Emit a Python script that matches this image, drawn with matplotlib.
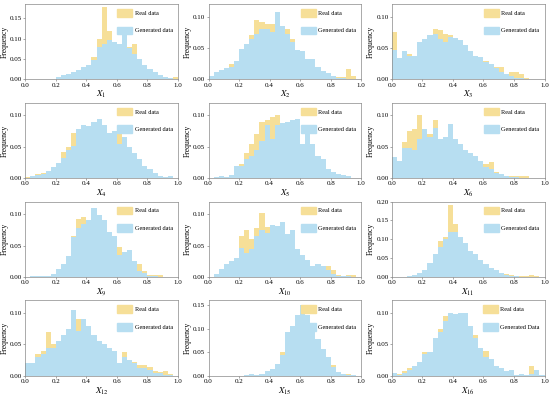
# Real vs generated data histograms
import numpy as np
import matplotlib.pyplot as plt
from matplotlib.patches import Patch
from matplotlib.ticker import MultipleLocator, FormatStrFormatter

plt.rcParams['font.family'] = ['Liberation Serif', 'DejaVu Serif']
plt.rcParams['mathtext.fontset'] = 'stix'

# 30 bins on [0, 1], relative frequency per bin
edges = np.linspace(0, 1, 31)

labels = ['$X_{1}$', '$X_{2}$', '$X_{3}$', '$X_{4}$', '$X_{5}$', '$X_{6}$',
          '$X_{9}$', '$X_{10}$', '$X_{11}$', '$X_{12}$', '$X_{15}$', '$X_{16}$']
y_top = [0.185, 0.12, 0.12, 0.12, 0.12, 0.12, 0.12, 0.12, 0.20, 0.12, 0.16, 0.12]

gen_x1 = [0, 0, 0, 0, 0.001, 0.002, 0.006, 0.010, 0.014, 0.018, 0.024, 0.030, 0.036, 0.048, 0.080,
          0.088, 0.096, 0.093, 0.086, 0.117, 0.078, 0.062, 0.050, 0.035, 0.025, 0.018, 0.012, 0.007, 0.003, 0.001]
real_x1 = [0, 0, 0, 0, 0.002, 0.002, 0.004, 0.008, 0.012, 0.016, 0.020, 0.028, 0.032, 0.055, 0.100,
           0.178, 0.118, 0.090, 0.080, 0.100, 0.080, 0.087, 0.050, 0.030, 0.020, 0.012, 0.008, 0.004, 0.002, 0.006]

gen_x2 = [0.005, 0.012, 0.015, 0.018, 0.020, 0.030, 0.048, 0.057, 0.065, 0.072, 0.080, 0.080, 0.075, 0.107, 0.085,
          0.072, 0.060, 0.047, 0.045, 0.033, 0.032, 0.020, 0.013, 0.010, 0.005, 0.002, 0.002, 0.001, 0.001, 0]
real_x2 = [0.004, 0.010, 0.012, 0.016, 0.025, 0.028, 0.045, 0.055, 0.070, 0.095, 0.092, 0.088, 0.088, 0.080, 0.080,
           0.080, 0.065, 0.040, 0.035, 0.030, 0.025, 0.015, 0.010, 0.006, 0.004, 0.004, 0.004, 0.017, 0.006, 0]

gen_x3 = [0.047, 0.034, 0.045, 0.038, 0.038, 0.060, 0.065, 0.070, 0.072, 0.065, 0.060, 0.068, 0.066, 0.062, 0.055,
          0.045, 0.038, 0.035, 0.028, 0.025, 0.018, 0.012, 0.008, 0.005, 0.003, 0.002, 0.001, 0, 0, 0]
real_x3 = [0.075, 0.030, 0.040, 0.040, 0.035, 0.055, 0.060, 0.065, 0.080, 0.078, 0.072, 0.070, 0.060, 0.058, 0.050,
           0.040, 0.035, 0.030, 0.030, 0.022, 0.020, 0.020, 0.008, 0.012, 0.012, 0.008, 0.003, 0, 0, 0]

gen_x4 = [0.001, 0.003, 0.005, 0.006, 0.012, 0.018, 0.025, 0.032, 0.045, 0.052, 0.078, 0.085, 0.083, 0.090, 0.095,
          0.085, 0.072, 0.075, 0.055, 0.065, 0.050, 0.040, 0.030, 0.020, 0.015, 0.008, 0.004, 0.002, 0.003, 0.001]
real_x4 = [0.002, 0.004, 0.007, 0.009, 0.010, 0.016, 0.022, 0.042, 0.050, 0.072, 0.070, 0.080, 0.080, 0.085, 0.090,
           0.080, 0.070, 0.070, 0.072, 0.060, 0.045, 0.035, 0.025, 0.018, 0.012, 0.006, 0.003, 0.001, 0.001, 0]

gen_x5 = [0.001, 0.002, 0.003, 0.002, 0.005, 0.020, 0.019, 0.030, 0.035, 0.045, 0.060, 0.085, 0.062, 0.085, 0.088,
          0.090, 0.092, 0.094, 0.055, 0.070, 0.055, 0.035, 0.030, 0.015, 0.010, 0.007, 0.005, 0.003, 0.001, 0]
real_x5 = [0.001, 0.002, 0.002, 0.002, 0.004, 0.015, 0.022, 0.040, 0.055, 0.070, 0.090, 0.092, 0.097, 0.100, 0.080,
           0.080, 0.080, 0.080, 0.050, 0.060, 0.050, 0.030, 0.025, 0.012, 0.008, 0.005, 0.003, 0.002, 0, 0]

gen_x6 = [0.033, 0.028, 0.048, 0.048, 0.045, 0.062, 0.078, 0.065, 0.080, 0.063, 0.065, 0.086, 0.062, 0.055, 0.045,
          0.040, 0.035, 0.028, 0.018, 0.015, 0.008, 0.006, 0.003, 0.002, 0.002, 0.001, 0, 0, 0, 0]
real_x6 = [0.030, 0.025, 0.057, 0.075, 0.078, 0.100, 0.070, 0.070, 0.093, 0.060, 0.060, 0.080, 0.055, 0.050, 0.040,
           0.035, 0.030, 0.025, 0.022, 0.026, 0.010, 0.006, 0.004, 0.004, 0.004, 0.004, 0.003, 0, 0, 0]

gen_x9 = [0, 0.002, 0.001, 0.001, 0.002, 0.005, 0.013, 0.020, 0.033, 0.063, 0.078, 0.085, 0.090, 0.110, 0.098,
          0.090, 0.072, 0.065, 0.035, 0.040, 0.043, 0.025, 0.010, 0.006, 0.002, 0.001, 0, 0, 0, 0]
real_x9 = [0, 0, 0.001, 0.001, 0.002, 0.004, 0.010, 0.018, 0.030, 0.065, 0.092, 0.095, 0.085, 0.100, 0.090,
           0.085, 0.070, 0.060, 0.048, 0.035, 0.040, 0.025, 0.020, 0.010, 0.004, 0.004, 0.003, 0, 0, 0]

gen_x10 = [0, 0.005, 0.013, 0.020, 0.025, 0.030, 0.047, 0.038, 0.045, 0.065, 0.075, 0.070, 0.083, 0.082, 0.088,
           0.068, 0.075, 0.045, 0.035, 0.027, 0.018, 0.020, 0.018, 0.012, 0.005, 0.002, 0.001, 0.001, 0, 0]
real_x10 = [0, 0.004, 0.010, 0.015, 0.020, 0.028, 0.065, 0.075, 0.060, 0.078, 0.102, 0.080, 0.075, 0.075, 0.080,
            0.060, 0.065, 0.040, 0.030, 0.025, 0.015, 0.018, 0.018, 0.017, 0.012, 0.004, 0.002, 0.004, 0.003, 0]

gen_x11 = [0, 0, 0, 0.002, 0.005, 0.010, 0.018, 0.038, 0.060, 0.080, 0.100, 0.120, 0.120, 0.105, 0.090,
           0.070, 0.060, 0.045, 0.035, 0.025, 0.018, 0.010, 0.005, 0.003, 0.002, 0.001, 0.001, 0, 0, 0]
real_x11 = [0, 0, 0, 0.001, 0.004, 0.008, 0.015, 0.035, 0.058, 0.095, 0.105, 0.190, 0.140, 0.100, 0.085,
            0.065, 0.055, 0.040, 0.030, 0.020, 0.015, 0.008, 0.007, 0.005, 0.004, 0.002, 0.002, 0.006, 0.003, 0]

gen_x12 = [0.020, 0.020, 0.030, 0.035, 0.045, 0.045, 0.055, 0.065, 0.075, 0.105, 0.072, 0.090, 0.080, 0.065, 0.055,
           0.050, 0.045, 0.040, 0.020, 0.030, 0.025, 0.020, 0.012, 0.012, 0.010, 0.005, 0.004, 0.002, 0.001, 0]
real_x12 = [0.015, 0.018, 0.035, 0.040, 0.070, 0.050, 0.050, 0.060, 0.070, 0.095, 0.090, 0.085, 0.075, 0.060, 0.050,
            0.045, 0.040, 0.035, 0.018, 0.038, 0.022, 0.022, 0.018, 0.018, 0.014, 0.008, 0.006, 0.007, 0.003, 0]

gen_x15 = [0, 0, 0, 0, 0, 0, 0, 0.001, 0.004, 0.002, 0.005, 0.010, 0.015, 0.025, 0.045,
           0.092, 0.105, 0.130, 0.150, 0.130, 0.100, 0.078, 0.058, 0.040, 0.018, 0.008, 0.005, 0.002, 0.001, 0]
real_x15 = [0, 0, 0, 0, 0, 0, 0, 0, 0.002, 0.002, 0.004, 0.008, 0.012, 0.022, 0.050,
            0.090, 0.100, 0.125, 0.145, 0.125, 0.105, 0.075, 0.055, 0.038, 0.022, 0.008, 0.004, 0.004, 0.002, 0]

gen_x16 = [0.004, 0.002, 0.005, 0.010, 0.015, 0.022, 0.035, 0.038, 0.060, 0.070, 0.088, 0.100, 0.098, 0.100, 0.100,
           0.080, 0.060, 0.045, 0.030, 0.027, 0.015, 0.012, 0.008, 0.010, 0.001, 0.003, 0.002, 0.003, 0.009, 0.002]
real_x16 = [0.002, 0.003, 0.008, 0.012, 0.016, 0.020, 0.038, 0.036, 0.058, 0.075, 0.095, 0.095, 0.095, 0.098, 0.098,
            0.075, 0.065, 0.045, 0.040, 0.025, 0.015, 0.010, 0.006, 0.006, 0.002, 0.002, 0.002, 0.016, 0.005, 0.002]

gen_all = [gen_x1, gen_x2, gen_x3, gen_x4, gen_x5, gen_x6,
           gen_x9, gen_x10, gen_x11, gen_x12, gen_x15, gen_x16]
real_all = [real_x1, real_x2, real_x3, real_x4, real_x5, real_x6,
            real_x9, real_x10, real_x11, real_x12, real_x15, real_x16]

c_real = '#F6DF98'
c_gen = '#B7DEF1'

fig, axes = plt.subplots(4, 3, figsize=(5.5, 3.99), dpi=100)
fig.subplots_adjust(left=0.046, right=0.99, top=0.99, bottom=0.058, wspace=0.2, hspace=0.31)

centers = (edges[:-1] + edges[1:]) / 2
for i, ax in enumerate(axes.flat):
    ax.hist(centers, bins=edges, weights=real_all[i], histtype='stepfilled', color=c_real, lw=0)
    ax.hist(centers, bins=edges, weights=gen_all[i], histtype='stepfilled', color=c_gen, lw=0)
    ax.set_xlim(0, 1)
    ax.set_ylim(0, y_top[i])
    ax.set_xticks(np.arange(0, 1.01, 0.2))
    ax.yaxis.set_major_locator(MultipleLocator(0.05))
    ax.xaxis.set_major_formatter(FormatStrFormatter('%.1f'))
    ax.yaxis.set_major_formatter(FormatStrFormatter('%.2f'))
    ax.set_xlabel(labels[i], fontsize=6.5, labelpad=1)
    ax.set_ylabel('Frequency', fontsize=5.5, labelpad=1)
    ax.tick_params(labelsize=5, length=1.5, width=0.4, pad=0.8, color='#666666')
    for s in ax.spines.values():
        s.set_linewidth(0.5)
        s.set_color('#888888')
    gen_name = 'Generated Data' if i == 11 else 'Generated data'
    handles = [Patch(color=c_real, label='Real data'), Patch(color=c_gen, label=gen_name)]
    ax.legend(handles=handles, loc='upper right', frameon=False, fontsize=4.5,
              handlelength=2.4, handleheight=1.5, labelspacing=1.6, borderaxespad=0.4,
              handletextpad=0.4)

plt.savefig('out.png', dpi=100)
